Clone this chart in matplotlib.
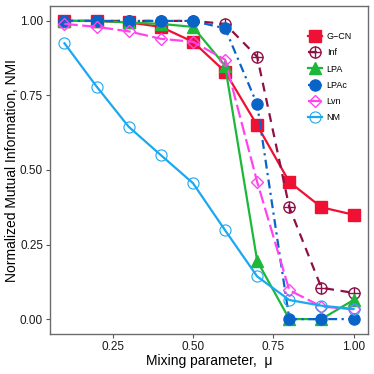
import numpy as np
import matplotlib
matplotlib.use('Agg')
import matplotlib.pyplot as plt

plt.rcParams['font.family'] = ['Liberation Sans', 'DejaVu Sans']

mu = [0.1, 0.2, 0.3, 0.4, 0.5, 0.6, 0.7, 0.8, 0.9, 1.0]

gcn = [1.0, 1.0, 0.995, 0.98, 0.93, 0.83, 0.65, 0.46, 0.375, 0.35]
inf = [1.0, 1.0, 1.0, 1.0, 1.0, 0.99, 0.88, 0.375, 0.105, 0.088]
lpa = [1.0, 1.0, 0.995, 0.99, 0.98, 0.85, 0.195, 0.0, 0.0, 0.064]
lpac = [1.0, 1.0, 1.0, 1.0, 1.0, 0.975, 0.72, 0.0, 0.0, 0.0]
lvn = [0.99, 0.98, 0.965, 0.94, 0.93, 0.87, 0.46, 0.097, 0.042, 0.033]
nm = [0.925, 0.78, 0.645, 0.55, 0.456, 0.298, 0.143, 0.064, 0.045, 0.034]

yticks = [0.0, 0.25, 0.5, 0.75, 1.0]
xticks = [0.25, 0.5, 0.75, 1.0]

fig = plt.figure(figsize=(3.74, 3.74), dpi=100)
ax = fig.add_axes([50/374, 40/374, 318/374, 328/374])

lw = 1.6
ms = 8
h_gcn, = ax.plot(mu, gcn, color='#EE1133', lw=lw, ls='-', marker='s', ms=ms)
h_inf1, = ax.plot(mu, inf, color='#8E1145', lw=lw, ls=(0, (4, 3)), marker='o', ms=ms,
                  mfc='none', mew=1.0)
h_inf2, = ax.plot(mu, inf, color='#8E1145', lw=0, marker='+', ms=ms, mew=1.0)
h_lpa, = ax.plot(mu, lpa, color='#1DB83A', lw=lw, ls='-', marker='^', ms=ms)
h_lpac, = ax.plot(mu, lpac, color='#0A64C8', lw=lw, ls=(0, (4, 2, 1, 2)), marker='o', ms=ms)
h_lvn, = ax.plot(mu, lvn, color='#FF44EE', lw=lw, ls=(0, (6, 2)), marker='D', ms=6.5,
                 mfc='none', mew=1.0)
h_nm, = ax.plot(mu, nm, color='#1BA8F0', lw=lw, ls='-', marker='o', ms=ms,
                mfc='none', mew=0.8)

ax.set_xlim(0.055, 1.045)
ax.set_ylim(-0.05, 1.05)
ax.set_xticks(xticks)
ax.set_xticklabels(['%.2f' % t for t in xticks])
ax.set_yticks(yticks)
ax.set_yticklabels(['%.2f' % t for t in yticks])
ax.tick_params(direction='out', length=3, width=0.8, color='#555555',
               labelsize=8.5, labelcolor='#1a1a1a', pad=2)
for s in ax.spines.values():
    s.set_color('#6b6b6b')
    s.set_linewidth(1.0)

ax.set_xlabel('Mixing parameter,  \u03bc', fontsize=10, labelpad=1)
ax.set_ylabel('Normalized Mutual Information, NMI', fontsize=10, labelpad=1)

leg = ax.legend([h_gcn, (h_inf1, h_inf2), h_lpa, h_lpac, h_lvn, h_nm],
                ['G\u2212CN', 'Inf', 'LPA', 'LPAc', 'Lvn', 'NM'],
                loc='upper right', bbox_to_anchor=(0.975, 0.945), frameon=False,
                fontsize=6.5, handlelength=1.6, labelspacing=0.8, handletextpad=0.5)

fig.savefig('out.png', dpi=100)
